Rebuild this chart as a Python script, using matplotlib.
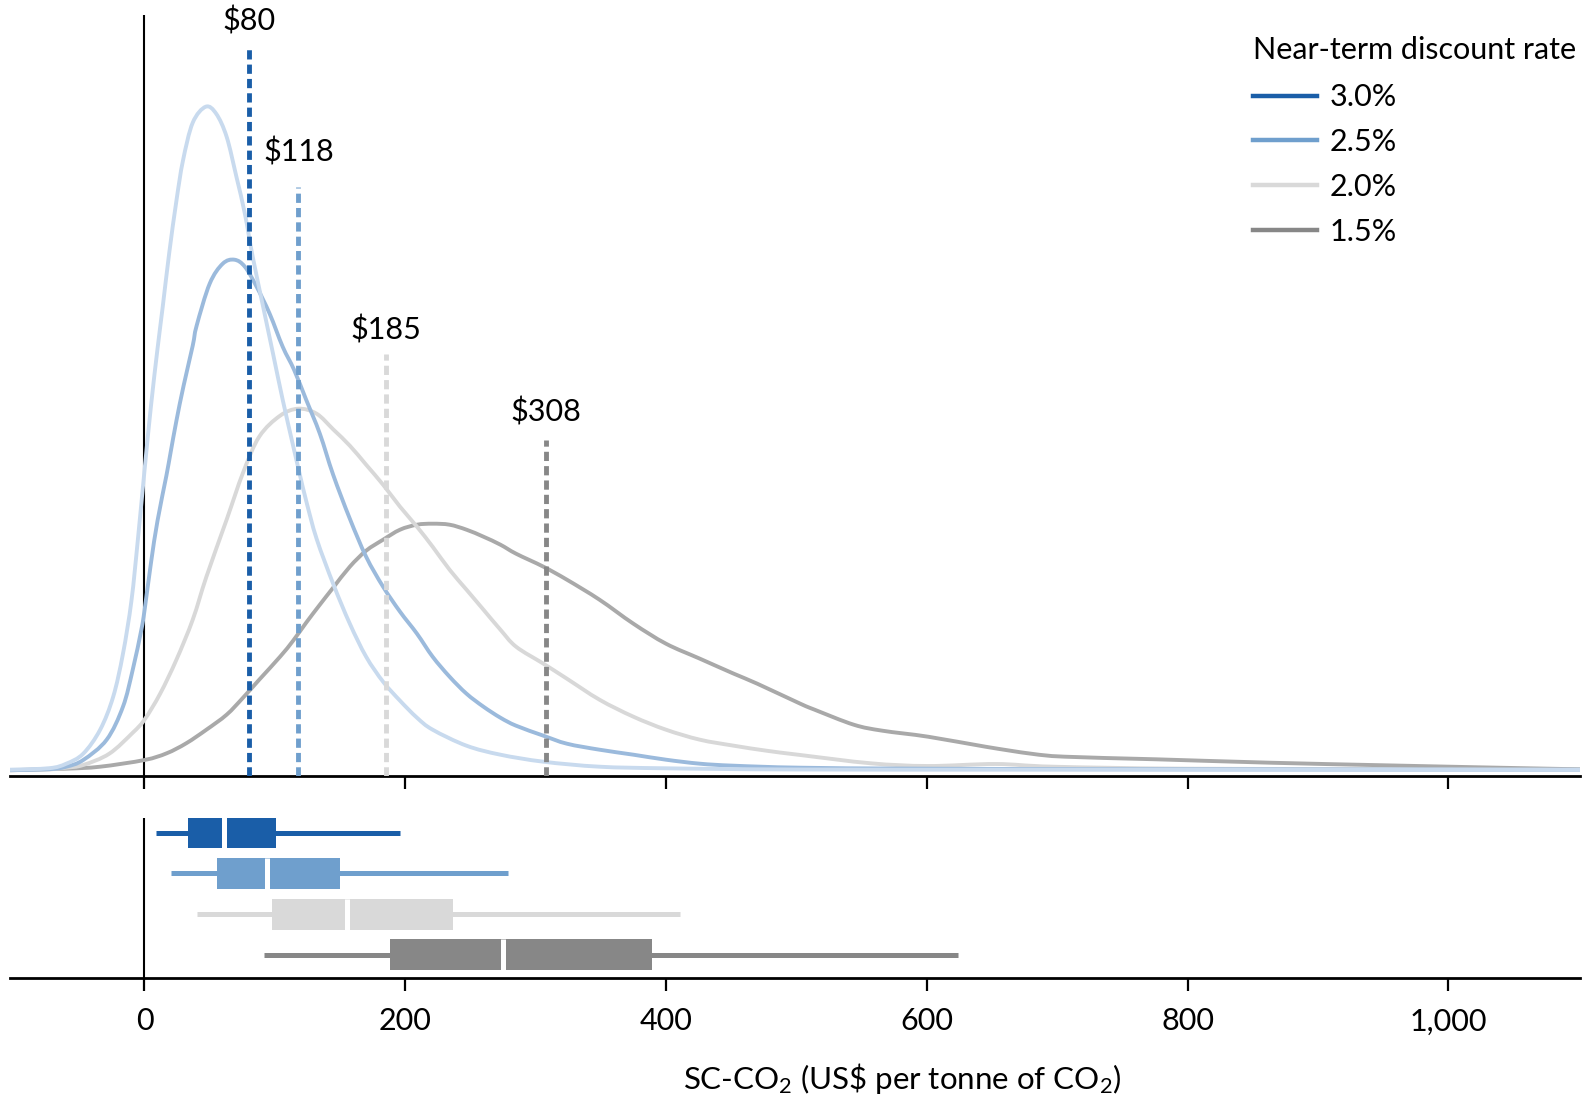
import numpy as np
import matplotlib.pyplot as plt
from matplotlib.lines import Line2D
from matplotlib.path import Path
from matplotlib.patches import PathPatch

plt.rcParams['font.family'] = ['Lato', 'DejaVu Sans']
plt.rcParams['mathtext.fontset'] = 'custom'
plt.rcParams['mathtext.rm'] = 'Lato'
plt.rcParams['mathtext.it'] = 'Lato:italic'
plt.rcParams['mathtext.bf'] = 'Lato:bold'

# rates
rates = ['3.0%', '2.5%', '2.0%', '1.5%']
means = [80, 118, 185, 308]

# density curves (relative height)
x_30 = [-103, -73, -60, -47, -34, -24, -16.5, -10, -5, 0, 5, 10, 14, 19, 24.5, 29.5, 37, 47, 55, 63,
        70.5, 77, 83, 91, 98.6, 106, 114, 119, 124, 132, 145, 157.5, 170, 183, 196, 209, 221, 247,
        273, 306, 349, 400, 500, 700, 1101]
d_30 = [1, 2.5, 7, 17, 41, 74, 117, 170, 232, 300, 365, 422, 464, 518, 570, 610, 648, 664, 657, 634,
        594, 557, 514, 464, 417, 371, 325, 297, 270, 232, 186, 147, 114, 89, 70, 53, 41, 25,
        16, 9, 4, 2.4, 1.2, 1, 0.8]

x_25 = [-103, -73, -60, -47, -29, -16.5, -9, -2.4, 0, 5, 10, 16.8, 20, 24.5, 30, 37, 40, 50, 60, 69,
        77, 86, 96, 106, 114.7, 124, 134.5, 144.7, 157.5, 170, 183, 196, 209, 221, 234, 247, 260,
        273, 285, 306, 324, 349, 375, 400, 426, 452, 503, 600, 800, 1101]
d_25 = [0.5, 1.5, 4, 10.7, 31, 64, 101, 141, 160, 208, 250, 295, 318, 350, 385, 425, 445, 487, 507, 511,
        504, 484, 457, 424, 401, 371, 337, 296, 252, 214, 184, 159, 137, 114, 94, 77, 64,
        53, 45, 35, 27, 21, 16, 11, 7, 5, 3, 2, 1.4, 1]

x_20 = [-103, -73, -60, -47, -27, -9, 0, 12, 24.5, 37, 47.5, 63, 75.6, 88, 104, 118, 132, 145, 157.5,
        170, 183, 196, 209, 221, 234, 247, 260, 273, 285, 306, 324, 349, 375, 400, 426, 452, 477,
        503, 557, 601, 653, 697, 800, 1000, 1101]
d_20 = [0.5, 1.5, 3, 5.7, 17, 38, 51, 77, 111, 151, 194, 251, 298, 334, 355, 362, 357, 341, 325,
        306, 286, 264, 244, 224, 201, 181, 161, 141, 124, 107, 92, 71, 54, 41, 31, 25, 20,
        15.7, 7.4, 4.7, 6.7, 4, 2, 1.4, 1]

x_15 = [-103, -60, -34, 0, 17, 32, 47.5, 63, 75.6, 88, 104, 114, 124, 134.5, 144.7, 157.5, 170, 183,
        196, 209, 221, 234, 247, 260, 273, 285, 306, 324, 349, 375, 400, 426, 452, 470, 503, 514,
        544, 566, 601, 645, 680, 706, 776, 863, 951, 1038, 1101]
d_15 = [0.5, 2, 4, 10.7, 17.4, 27.4, 41, 56, 73, 91, 114, 130, 148, 166, 183, 204, 220, 231,
        241, 246, 247, 246, 241, 234, 226, 217, 204, 191, 171, 147, 127, 112, 97, 87, 67, 61,
        46, 40, 34, 24, 17, 14, 11.4, 8, 5.4, 3, 1.4]

# box plot summaries
whisk_lo = [9, 20, 40, 92]
q1 = [33, 56, 98, 188]
med = [61, 94, 155, 275]
q3 = [101, 150, 237, 389]
whisk_hi = [196, 279, 411, 624]

xticks = [0, 200, 400, 600, 800, 1000]
xtick_labels = ['0', '200', '400', '600', '800', '1,000']

# styling
strong = ['#1a5ea8', '#6f9fcd', '#d9d9d9', '#878787']
soft = ['#c8daee', '#9bbadc', '#d8d8d8', '#a9a9a9']
label_y = [750, 619, 441, 359]
line_top = [722, 584, 417, 331]
FS = 22

curves = [(x_30, d_30), (x_25, d_25), (x_20, d_20), (x_15, d_15)]


def smooth_path(xs, ys):
    # Catmull-Rom style bezier through the read points
    p = np.column_stack([xs, ys]).astype(float)
    pe = np.vstack([p[0], p, p[-1]])
    verts = [p[0]]
    codes = [Path.MOVETO]
    for i in range(len(p) - 1):
        a, b, c, d = pe[i], pe[i + 1], pe[i + 2], pe[i + 3]
        verts += [b + (c - a) / 6, c - (d - b) / 6, c]
        codes += [Path.CURVE4] * 3
    return Path(verts, codes)


fig = plt.figure(figsize=(15.93, 11.02), dpi=100)
ax = fig.add_axes([0.0064, 0.2961, 0.9854, 0.6901])
axb = fig.add_axes([0.0064, 0.1129, 0.9854, 0.1451])

for a in (ax, axb):
    for s in ('top', 'right', 'left'):
        a.spines[s].set_visible(False)
    a.spines['bottom'].set_linewidth(2.0)
    a.set_xlim(-103, 1101)
    a.set_yticks([])
    a.set_xticks(xticks)
    a.tick_params(axis='x', length=9.5, width=1.6, direction='out', labelsize=FS, pad=12)
    a.axvline(0, color='black', lw=1.5, zorder=1)

ax.set_xticklabels([])
axb.set_xticklabels(xtick_labels)
ax.set_ylim(-5, 755.5)

# density curves, 1.5% at the back
for i in [3, 2, 1, 0]:
    xs, ds = curves[i]
    ax.add_patch(PathPatch(smooth_path(xs, ds), facecolor='none', edgecolor=soft[i], lw=2.8,
                           joinstyle='round', capstyle='round', zorder=2 + (3 - i) * 0.1))

# mean lines
for i in range(4):
    ax.vlines(means[i], -5, line_top[i], color=strong[i], lw=3.5, linestyles=(0, (1.9, 1.05)), zorder=4)
    ax.text(means[i], label_y[i], '\\$' + str(means[i]), ha='center', va='center', fontsize=FS)

# box plots
rows = [3, 2, 1, 0]
axb.set_ylim(-0.555, 3.37)
for i in range(4):
    axb.hlines(rows[i], whisk_lo[i], whisk_hi[i], color=strong[i], lw=3.6, zorder=2)
    axb.barh(rows[i], q3[i] - q1[i], left=q1[i], height=0.76, color=strong[i], zorder=3)
    axb.vlines(med[i], rows[i] - 0.38, rows[i] + 0.38, color='white', lw=3.6, zorder=4)

fig.text(0.5662, 0.0209, r'SC-CO$_2$ (US\$ per tonne of CO$_2$)', ha='center', va='center', fontsize=FS + 0.5)

fig.text(0.7866, 0.9550, 'Near-term discount rate', ha='left', va='center', fontsize=FS)
handles = [Line2D([0], [0], color=c, lw=3.2) for c in strong]
fig.legend(handles, rates, loc='upper left', bbox_to_anchor=(0.7866, 0.9245), frameon=False,
           fontsize=FS, handlelength=2.1, handletextpad=0.4, labelspacing=0.55,
           borderpad=0, borderaxespad=0)

fig.savefig('out.png', dpi=100)
